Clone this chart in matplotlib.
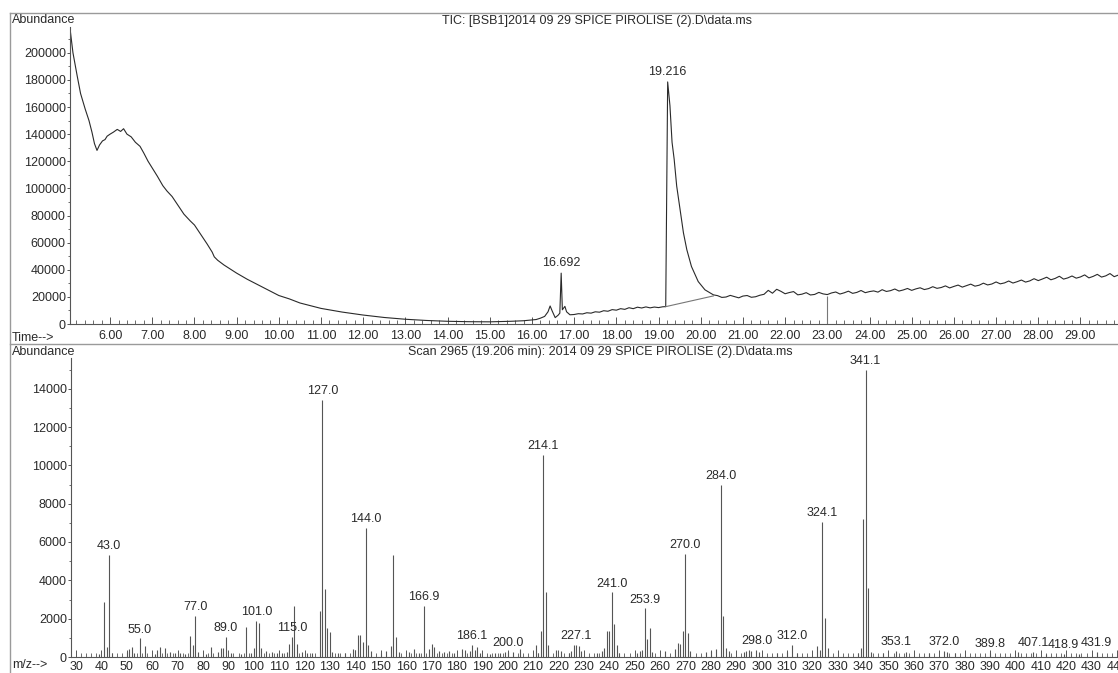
import numpy as np
import matplotlib.pyplot as plt
from matplotlib.lines import Line2D
from matplotlib.ticker import MultipleLocator, FixedLocator

plt.rcParams['font.family'] = ['Liberation Sans', 'DejaVu Sans']

# ---- TIC trace (time in min, abundance) ----
tic_time = [5.05, 5.12, 5.22, 5.30, 5.41, 5.50, 5.57, 5.63, 5.69, 5.75, 5.82, 5.88, 5.93,
            6.00, 6.08, 6.17, 6.25, 6.32, 6.40, 6.50, 6.60, 6.71, 6.80, 6.90, 7.02, 7.12,
            7.25, 7.35, 7.47, 7.60, 7.75, 7.90, 8.00, 8.15, 8.30, 8.42, 8.47, 8.55, 8.70,
            8.85, 9.00, 9.25, 9.50, 9.75, 10.0, 10.25, 10.5, 10.75, 11.0, 11.5, 12.0, 12.5,
            13.0, 13.5, 14.0, 14.5, 15.0, 15.5, 15.8, 16.0,
            16.1, 16.2, 16.3, 16.38, 16.43, 16.48, 16.55, 16.62, 16.66, 16.692, 16.72, 16.78,
            16.82, 16.9, 17.0, 17.1, 17.2, 17.3, 17.4, 17.5, 17.6, 17.7, 17.8, 17.9, 18.0,
            18.1, 18.2, 18.3, 18.4, 18.5, 18.6, 18.7, 18.8, 18.9, 19.0, 19.1, 19.17,
            19.216, 19.27, 19.32, 19.37, 19.43, 19.51, 19.59, 19.67, 19.78, 19.94, 20.10, 20.30,
            20.4, 20.5, 20.6, 20.7, 20.8, 20.9, 21.0, 21.1, 21.2, 21.3, 21.4, 21.5, 21.6, 21.7,
            21.8, 21.9, 22.0, 22.1, 22.2, 22.3, 22.4, 22.5, 22.6, 22.7, 22.8, 22.9, 23.0, 23.1,
            23.2, 23.3, 23.4, 23.5, 23.6, 23.7, 23.8, 23.9, 24.0, 24.1, 24.2, 24.3, 24.4, 24.5,
            24.6, 24.7, 24.8, 24.9, 25.0, 25.1, 25.2, 25.3, 25.4, 25.5, 25.6, 25.7, 25.8, 25.9,
            26.0, 26.1, 26.2, 26.3, 26.4, 26.5, 26.6, 26.7, 26.8, 26.9, 27.0, 27.1, 27.2, 27.3,
            27.4, 27.5, 27.6, 27.7, 27.8, 27.9, 28.0, 28.1, 28.2, 28.3, 28.4, 28.5, 28.6, 28.7,
            28.8, 28.9, 29.0, 29.1, 29.2, 29.3, 29.4, 29.5, 29.6, 29.7, 29.8, 29.9]
tic_abund = [218000, 200000, 183000, 170000, 158500, 150000, 141500, 133000, 128000, 132000,
             135000, 136000, 138500, 140000, 141500, 143500, 142000, 144000, 140000, 138000,
             134000, 131000, 126000, 120000, 114000, 109000, 102000, 98000, 94000, 88000,
             81000, 76000, 73000, 66000, 59000, 53000, 49500, 47000, 43500, 40500, 37500,
             33000, 29000, 25000, 21000, 18500, 15500, 13500, 11500, 8800, 6600, 4800, 3500,
             2600, 2000, 1700, 1600, 2000, 2400, 3000,
             3300, 4300, 5600, 9000, 13300, 9500, 4700, 6500, 8000, 37500, 10500, 13000,
             9000, 6800, 7000, 7600, 7400, 8300, 8000, 9000, 8700, 9800, 9400, 10600, 10200,
             11300, 10800, 12000, 11300, 12400, 11800, 12600, 11900, 12500, 12100, 12700, 12800,
             178500, 161000, 134000, 121500, 101700, 84400, 67200, 54800, 42400, 31300, 25200, 21500,
             20900, 19600, 19900, 21100, 20200, 19300, 20600, 21000, 19700, 20100, 21200, 21900,
             24800, 22700, 25600, 24100, 22300, 23200, 23900, 21500, 22000, 23100, 21400, 21800,
             23300, 22200, 21700, 22900, 23600, 22100, 23000, 24200, 22600, 23300, 24700, 23100,
             23900, 24400, 23500, 25300, 24000, 24600, 25800, 24300, 25100, 26200, 24800, 25900,
             26700, 25400, 26100, 27500, 26300, 26900, 28100, 26600, 27700, 28700, 27200, 28300,
             29400, 27900, 28600, 30100, 28800, 29500, 31000, 29600, 30300, 31700, 30200, 31200,
             32400, 30900, 31800, 33400, 32000, 33200, 34500, 32600, 33600, 35200, 33100, 34000,
             35400, 33800, 34700, 36200, 34000, 35100, 36600, 34600, 35500, 37200, 34900, 36100]

tic_peaks = [16.692, 19.216]
tic_peak_heights = [37500, 178500]
# integration baseline under the big peak and the event mark at 23.00
base_t = [19.17, 20.30]
base_a = [12800, 20700]
event_t = 23.0
event_a = 21000

# ---- mass spectrum, scan 2965 ----
mz = [39, 41, 42, 43, 44, 50, 51, 52, 53, 55, 57, 61, 62, 63, 65, 67, 69, 71, 73, 75, 76, 77,
      78, 81, 83, 86, 87, 88, 89, 91, 95, 97, 99, 100, 101, 102, 103, 105, 107, 109, 111, 113,
      114, 115, 116, 117, 119, 121, 123, 126, 127, 128, 129, 130, 131, 133, 136, 139, 140, 141,
      142, 143, 144, 145, 146, 150, 152, 154, 155, 156, 157, 161, 163, 165, 167, 169, 170, 171,
      173, 175, 177, 179, 182, 183, 185, 186, 187, 188, 189, 193, 195, 197, 199, 200, 202, 205,
      211, 212, 213, 214, 215, 216, 219, 221, 224, 225, 226, 227, 228, 229, 235, 237, 238, 239,
      240, 241, 242, 243, 244, 251, 252, 253, 254, 255, 256, 257, 262, 266, 267, 268, 269, 270,
      271, 272, 278, 280, 282, 284, 285, 286, 287, 293, 294, 295, 296, 298, 299, 306, 310, 312,
      314, 322, 323, 324, 325, 326, 338, 339, 340, 341, 342, 343, 348, 353, 357, 366, 372, 373,
      376, 390, 401, 407, 412, 419, 425, 432]
abund = [150, 2890, 500, 5320, 200, 250, 400, 500, 200, 975, 590, 150, 365, 540, 450, 250, 200,
         200, 150, 1110, 625, 2140, 250, 150, 500, 250, 450, 450, 1030, 200, 150, 1580, 200, 450,
         1880, 1760, 450, 300, 250, 200, 200, 250, 680, 1060, 2645, 680, 250, 200, 200, 2420,
         13400, 3530, 1510, 1320, 250, 200, 200, 435, 365, 1165, 1130, 800, 6716, 625, 300, 200,
         300, 580, 5320, 1030, 280, 280, 435, 200, 2660, 400, 660, 540, 300, 250, 300, 200, 400,
         350, 300, 625, 350, 540, 200, 150, 200, 200, 250, 280, 250, 400, 625, 200, 1375, 10540,
         3375, 610, 365, 300, 200, 300, 625, 625, 575, 300, 200, 300, 450, 1360, 1360, 3375, 1720,
         625, 200, 200, 300, 350, 2540, 940, 1510, 250, 300, 400, 750, 680, 1360, 5377, 1235, 313,
         250, 300, 400, 8980, 2140, 450, 313, 250, 300, 350, 300, 365, 250, 200, 250, 625, 200,
         575, 350, 7030, 2020, 450, 200, 450, 7200, 15000, 3620, 250, 200, 330, 250, 200, 330,
         250, 200, 200, 250, 250, 150, 150, 150, 280]

ms_labels = [43.0, 55.0, 77.0, 89.0, 101.0, 115.0, 127.0, 144.0, 166.9, 186.1, 200.0, 214.1,
             227.1, 241.0, 253.9, 270.0, 284.0, 298.0, 312.0, 324.1, 341.1, 353.1, 372.0,
             389.8, 407.1, 418.9, 431.9]

ink = '#2a2a2a'
fig = plt.figure(figsize=(11.18, 6.73), dpi=100)
W, H = 1118, 673

# ---------------- TIC panel ----------------
ax1 = fig.add_axes([70 / W, 1 - 324 / H, (W - 70) / W, (324 - 27) / H])
ax1.plot(tic_time, tic_abund, color=ink, lw=0.8)
ax1.plot(base_t, base_a, color='#777777', lw=0.8)
ax1.vlines(event_t, 0, event_a, color='#777777', lw=0.8)
for t, a in zip(tic_peaks, tic_peak_heights):
    ax1.annotate(f'{t:.3f}', (t, a), xytext=(0, 3), textcoords='offset points',
                 ha='center', va='bottom', fontsize=9, color=ink)
ax1.set_xlim(5.05, 29.89)
ax1.set_ylim(0, 219000)
ax1.xaxis.set_major_locator(MultipleLocator(1))
ax1.xaxis.set_minor_locator(MultipleLocator(0.2))
ax1.xaxis.set_major_formatter(lambda v, p: f'{v:.2f}')
ax1.yaxis.set_major_locator(MultipleLocator(20000))
ax1.yaxis.set_minor_locator(MultipleLocator(10000))

# ---------------- spectrum panel ----------------
ax2 = fig.add_axes([71 / W, 1 - 657 / H, (W - 71) / W, (657 - 358) / H])
ax2.vlines(mz, 0, abund, color='#555555', lw=0.8)
for lab in ms_labels:
    i = int(np.argmin(np.abs(np.array(mz) - lab)))
    ax2.annotate(f'{lab:.1f}', (mz[i], abund[i]), xytext=(0, 2), textcoords='offset points',
                 ha='center', va='bottom', fontsize=9, color=ink)
ax2.set_xlim(28, 440.4)
ax2.set_ylim(0, 15600)
ax2.xaxis.set_major_locator(MultipleLocator(10))
ax2.xaxis.set_minor_locator(MultipleLocator(2))
ax2.yaxis.set_major_locator(FixedLocator(range(0, 15000, 2000)))
ax2.yaxis.set_minor_locator(MultipleLocator(1000))

for ax in (ax1, ax2):
    for s in ('top', 'right'):
        ax.spines[s].set_visible(False)
    for s in ('left', 'bottom'):
        ax.spines[s].set_color('#555555')
        ax.spines[s].set_linewidth(0.8)
    ax.tick_params(axis='x', which='major', direction='in', length=5, width=0.7,
                   colors='#555555', labelcolor=ink, labelsize=9, pad=4)
    ax.tick_params(axis='x', which='minor', direction='in', length=3, width=0.6, colors='#555555')
    ax.tick_params(axis='y', which='major', direction='out', length=2, width=0.7,
                   colors='#555555', labelcolor=ink, labelsize=9, pad=1)
    ax.tick_params(axis='y', which='minor', direction='out', length=1.5, width=0.6,
                   colors='#555555')
ax2.tick_params(axis='x', which='major', pad=3)

# ---------------- page text and frame ----------------
fig.text(12 / W, 1 - 20 / H, 'Abundance', fontsize=9, color=ink, va='center')
fig.text(12 / W, 1 - 352 / H, 'Abundance', fontsize=9, color=ink, va='center')
fig.text(12 / W, 1 - 338 / H, 'Time-->', fontsize=9, color=ink, va='center')
fig.text(12 / W, 1 - 665 / H, 'm/z-->', fontsize=9, color=ink, va='center')
fig.text(597 / W, 1 - 21 / H, 'TIC: [BSB1]2014 09 29 SPICE PIROLISE (2).D\\data.ms',
         fontsize=9, color=ink, ha='center', va='center')
fig.text(600 / W, 1 - 352 / H, 'Scan 2965 (19.206 min): 2014 09 29 SPICE PIROLISE (2).D\\data.ms',
         fontsize=9, color=ink, ha='center', va='center')

frame = '#9a9a9a'
fig.add_artist(Line2D([10 / W, 1], [1 - 13 / H, 1 - 13 / H], color=frame, lw=1))
fig.add_artist(Line2D([10 / W, 10 / W], [1 - 13 / H, 0], color=frame, lw=1))
fig.add_artist(Line2D([10 / W, 1], [1 - 344 / H, 1 - 344 / H], color=frame, lw=1))

fig.savefig('out.png', dpi=100, facecolor='white')
